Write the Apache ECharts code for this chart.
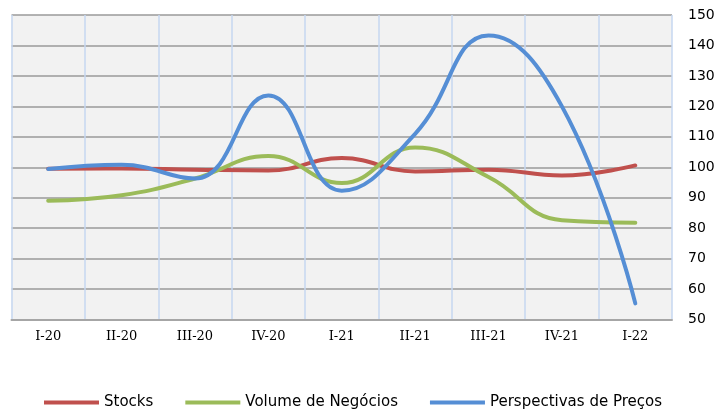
<!DOCTYPE html>
<html>
<head>
<meta charset="utf-8">
<script src="https://cdn.jsdelivr.net/npm/echarts@6/dist/echarts.min.js"></script>
<style>
  html, body { margin: 0; padding: 0; background: #ffffff; }
  #chart { width: 720px; height: 411px; }
</style>
</head>
<body>
<div id="chart"></div>
<script>
// Quarterly indicators (base 100)
const quarters = ['I-20', 'II-20', 'III-20', 'IV-20', 'I-21', 'II-21', 'III-21', 'IV-21', 'I-22'];
const stocks = [99.5, 99.6, 99.2, 98.9, 103.0, 98.6, 99.2, 97.3, 100.6];
const volumeNegocios = [89.0, 90.8, 96.3, 103.7, 94.8, 106.5, 96.8, 82.6, 81.8];
const perspectivasPrecos = [99.4, 100.8, 96.3, 123.6, 92.3, 111.0, 143.3, 120.0, 55.3];
const yTicks = { min: 50, max: 150, step: 10 };

const seriesNames = ['Stocks', 'Volume de Negócios', 'Perspectivas de Preços'];
const seriesColors = ['#c0504d', '#9bbb59', '#558ed5'];
const seriesData = [stocks, volumeNegocios, perspectivasPrecos];

const chart = echarts.init(document.getElementById('chart'), null, { renderer: 'canvas' });

chart.setOption({
  animation: false,
  backgroundColor: '#ffffff',
  grid: {
    left: 11.5,
    right: 48,
    top: 15,
    bottom: 91.5,
    show: true,
    backgroundColor: '#f2f2f2',
    borderWidth: 0
  },
  legend: {
    top: 395,
    left: 44,
    padding: 0,
    itemWidth: 55,
    itemHeight: 4,
    itemGap: 32,
    icon: 'rect',
    data: seriesNames,
    textStyle: { fontFamily: 'DejaVu Sans', fontSize: 15, color: '#000' }
  },
  xAxis: {
    type: 'category',
    data: quarters,
    boundaryGap: true,
    axisTick: { show: false },
    axisLine: { show: true, lineStyle: { color: '#a6a6a6', width: 2 } },
    axisLabel: {
      margin: 11,
      fontFamily: 'DejaVu Serif',
      fontSize: 13,
      color: '#000'
    },
    splitLine: { show: true, lineStyle: { color: '#c6d7f0', width: 1.5 } }
  },
  yAxis: {
    type: 'value',
    position: 'right',
    min: yTicks.min,
    max: yTicks.max,
    interval: yTicks.step,
    axisLine: { show: false },
    axisTick: { show: false },
    axisLabel: {
      margin: 16,
      fontFamily: 'DejaVu Sans',
      fontSize: 14,
      color: '#000'
    },
    splitLine: { show: true, lineStyle: { color: '#9a9a9a', width: 1.5 } }
  },
  series: seriesNames.map((name, i) => ({
    name: name,
    type: 'line',
    data: seriesData[i],
    smooth: 0.45,
    symbol: 'none',
    itemStyle: { color: seriesColors[i] },
    lineStyle: { color: seriesColors[i], width: 4, cap: 'round' }
  }))
});
</script>
</body>
</html>
